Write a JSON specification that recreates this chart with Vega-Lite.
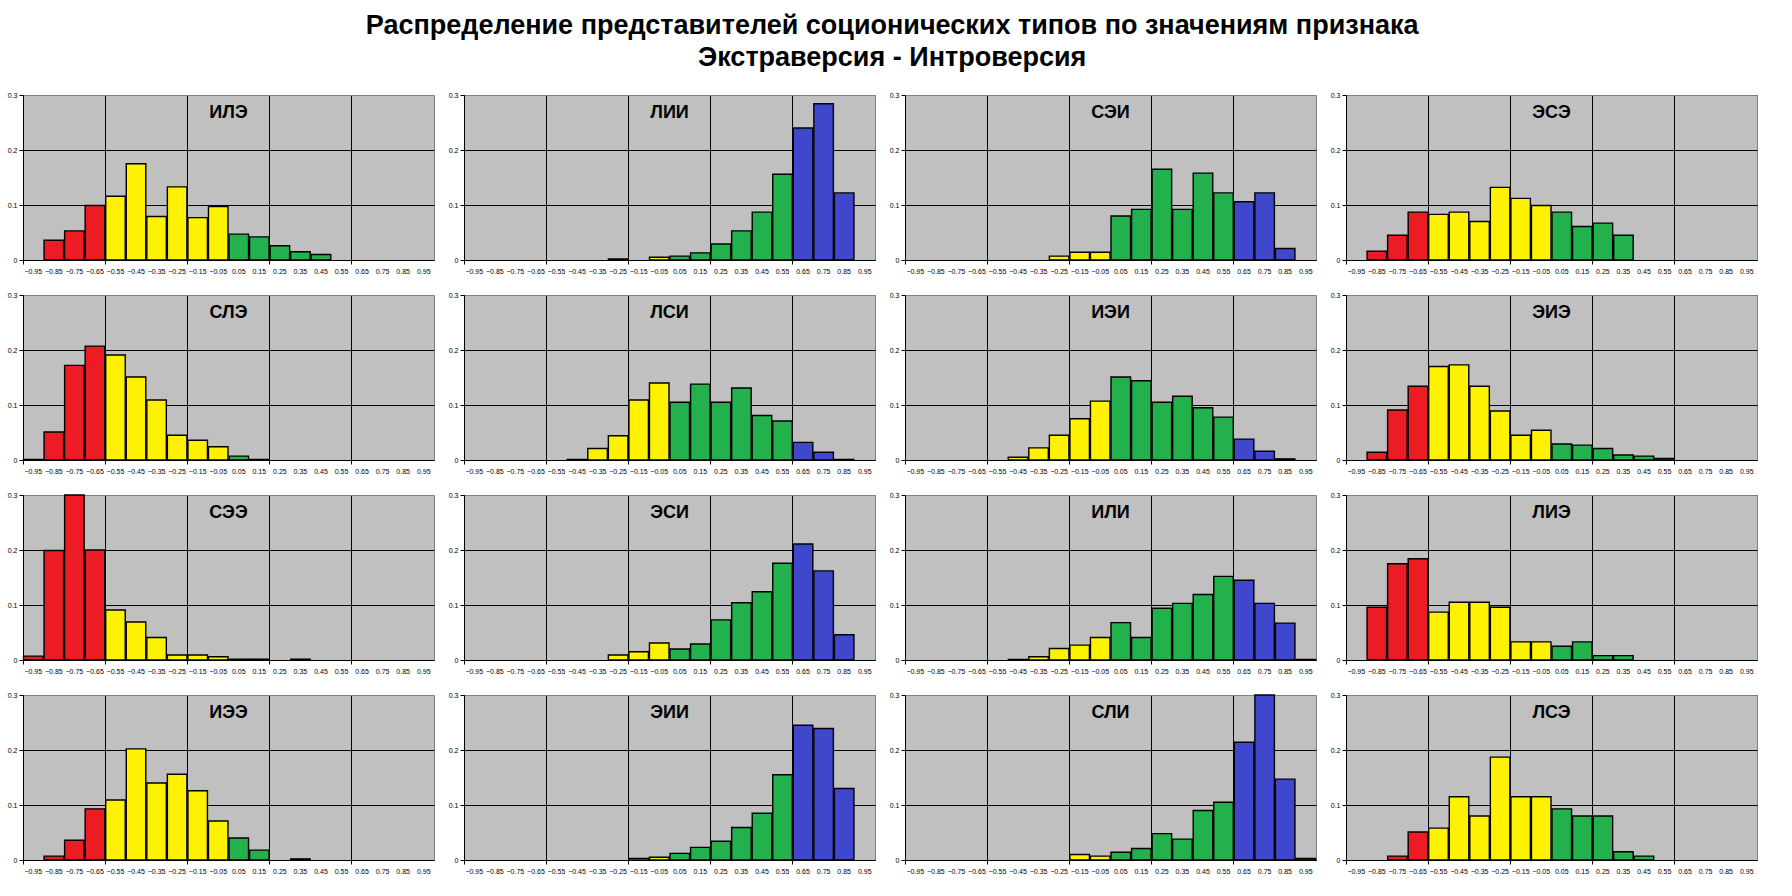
{
  "$schema": "https://vega.github.io/schema/vega-lite/v6.json",
  "description": "Распределение представителей соционических типов по значениям признака Экстраверсия - Интроверсия",
  "padding": {"left": 6, "top": 11, "right": 5, "bottom": 5},
  "background": "white",
  "locale": {"number": {"decimal": ",", "thousands": " ", "grouping": [3], "currency": ["", ""], "minus": "-"}},
  "title": {
    "text": ["Распределение представителей соционических типов по значениям признака", "Экстраверсия - Интроверсия"],
    "font": "Liberation Sans",
    "fontSize": 27,
    "fontWeight": "bold",
    "lineHeight": 32,
    "color": "black",
    "anchor": "middle",
    "dx": 10,
    "offset": 18
  },
  "config": {
    "font": "Liberation Sans",
    "view": {"fill": "#C0C0C0", "stroke": "#808080", "strokeWidth": 1},
    "header": {"labels": false, "title": null, "labelFontSize": 1, "labelPadding": 0, "labelColor": "transparent", "labelExpr": "''"},
    "headerFacet": {"labels": false, "title": null, "labelFontSize": 1, "labelPadding": 0, "labelColor": "transparent", "labelExpr": "''"}
  },
  "data": {
    "values": [
      {"t": "ИЛЭ", "b": -0.85, "v": 0.036}, {"t": "ИЛЭ", "b": -0.75, "v": 0.053}, {"t": "ИЛЭ", "b": -0.65, "v": 0.099},
      {"t": "ИЛЭ", "b": -0.55, "v": 0.116}, {"t": "ИЛЭ", "b": -0.45, "v": 0.175}, {"t": "ИЛЭ", "b": -0.35, "v": 0.079},
      {"t": "ИЛЭ", "b": -0.25, "v": 0.133}, {"t": "ИЛЭ", "b": -0.15, "v": 0.077}, {"t": "ИЛЭ", "b": -0.05, "v": 0.097},
      {"t": "ИЛЭ", "b": 0.05, "v": 0.047}, {"t": "ИЛЭ", "b": 0.15, "v": 0.042}, {"t": "ИЛЭ", "b": 0.25, "v": 0.026},
      {"t": "ИЛЭ", "b": 0.35, "v": 0.015}, {"t": "ИЛЭ", "b": 0.45, "v": 0.010},

      {"t": "ЛИИ", "b": -0.25, "v": 0.002}, {"t": "ЛИИ", "b": -0.05, "v": 0.005}, {"t": "ЛИИ", "b": 0.05, "v": 0.007},
      {"t": "ЛИИ", "b": 0.15, "v": 0.013}, {"t": "ЛИИ", "b": 0.25, "v": 0.029}, {"t": "ЛИИ", "b": 0.35, "v": 0.053},
      {"t": "ЛИИ", "b": 0.45, "v": 0.087}, {"t": "ЛИИ", "b": 0.55, "v": 0.156}, {"t": "ЛИИ", "b": 0.65, "v": 0.240},
      {"t": "ЛИИ", "b": 0.75, "v": 0.284}, {"t": "ЛИИ", "b": 0.85, "v": 0.122},

      {"t": "СЭИ", "b": -0.25, "v": 0.007}, {"t": "СЭИ", "b": -0.15, "v": 0.014}, {"t": "СЭИ", "b": -0.05, "v": 0.014},
      {"t": "СЭИ", "b": 0.05, "v": 0.080}, {"t": "СЭИ", "b": 0.15, "v": 0.092}, {"t": "СЭИ", "b": 0.25, "v": 0.165},
      {"t": "СЭИ", "b": 0.35, "v": 0.092}, {"t": "СЭИ", "b": 0.45, "v": 0.158}, {"t": "СЭИ", "b": 0.55, "v": 0.122},
      {"t": "СЭИ", "b": 0.65, "v": 0.106}, {"t": "СЭИ", "b": 0.75, "v": 0.122}, {"t": "СЭИ", "b": 0.85, "v": 0.021},

      {"t": "ЭСЭ", "b": -0.85, "v": 0.016}, {"t": "ЭСЭ", "b": -0.75, "v": 0.045}, {"t": "ЭСЭ", "b": -0.65, "v": 0.087},
      {"t": "ЭСЭ", "b": -0.55, "v": 0.083}, {"t": "ЭСЭ", "b": -0.45, "v": 0.087}, {"t": "ЭСЭ", "b": -0.35, "v": 0.070},
      {"t": "ЭСЭ", "b": -0.25, "v": 0.132}, {"t": "ЭСЭ", "b": -0.15, "v": 0.112}, {"t": "ЭСЭ", "b": -0.05, "v": 0.099},
      {"t": "ЭСЭ", "b": 0.05, "v": 0.087}, {"t": "ЭСЭ", "b": 0.15, "v": 0.061}, {"t": "ЭСЭ", "b": 0.25, "v": 0.067},
      {"t": "ЭСЭ", "b": 0.35, "v": 0.045},

      {"t": "СЛЭ", "b": -0.95, "v": 0.001}, {"t": "СЛЭ", "b": -0.85, "v": 0.051}, {"t": "СЛЭ", "b": -0.75, "v": 0.172},
      {"t": "СЛЭ", "b": -0.65, "v": 0.207}, {"t": "СЛЭ", "b": -0.55, "v": 0.191}, {"t": "СЛЭ", "b": -0.45, "v": 0.151},
      {"t": "СЛЭ", "b": -0.35, "v": 0.109}, {"t": "СЛЭ", "b": -0.25, "v": 0.045}, {"t": "СЛЭ", "b": -0.15, "v": 0.036},
      {"t": "СЛЭ", "b": -0.05, "v": 0.024}, {"t": "СЛЭ", "b": 0.05, "v": 0.007}, {"t": "СЛЭ", "b": 0.15, "v": 0.001},

      {"t": "ЛСИ", "b": -0.45, "v": 0.001}, {"t": "ЛСИ", "b": -0.35, "v": 0.021}, {"t": "ЛСИ", "b": -0.25, "v": 0.044},
      {"t": "ЛСИ", "b": -0.15, "v": 0.109}, {"t": "ЛСИ", "b": -0.05, "v": 0.140}, {"t": "ЛСИ", "b": 0.05, "v": 0.105},
      {"t": "ЛСИ", "b": 0.15, "v": 0.138}, {"t": "ЛСИ", "b": 0.25, "v": 0.105}, {"t": "ЛСИ", "b": 0.35, "v": 0.131},
      {"t": "ЛСИ", "b": 0.45, "v": 0.081}, {"t": "ЛСИ", "b": 0.55, "v": 0.071}, {"t": "ЛСИ", "b": 0.65, "v": 0.032},
      {"t": "ЛСИ", "b": 0.75, "v": 0.014}, {"t": "ЛСИ", "b": 0.85, "v": 0.001},

      {"t": "ИЭИ", "b": -0.45, "v": 0.005}, {"t": "ИЭИ", "b": -0.35, "v": 0.022}, {"t": "ИЭИ", "b": -0.25, "v": 0.045},
      {"t": "ИЭИ", "b": -0.15, "v": 0.075}, {"t": "ИЭИ", "b": -0.05, "v": 0.107}, {"t": "ИЭИ", "b": 0.05, "v": 0.151},
      {"t": "ИЭИ", "b": 0.15, "v": 0.144}, {"t": "ИЭИ", "b": 0.25, "v": 0.105}, {"t": "ИЭИ", "b": 0.35, "v": 0.116},
      {"t": "ИЭИ", "b": 0.45, "v": 0.095}, {"t": "ИЭИ", "b": 0.55, "v": 0.078}, {"t": "ИЭИ", "b": 0.65, "v": 0.038},
      {"t": "ИЭИ", "b": 0.75, "v": 0.016}, {"t": "ИЭИ", "b": 0.85, "v": 0.002},

      {"t": "ЭИЭ", "b": -0.85, "v": 0.014}, {"t": "ЭИЭ", "b": -0.75, "v": 0.091}, {"t": "ЭИЭ", "b": -0.65, "v": 0.134},
      {"t": "ЭИЭ", "b": -0.55, "v": 0.170}, {"t": "ЭИЭ", "b": -0.45, "v": 0.173}, {"t": "ЭИЭ", "b": -0.35, "v": 0.134},
      {"t": "ЭИЭ", "b": -0.25, "v": 0.089}, {"t": "ЭИЭ", "b": -0.15, "v": 0.045}, {"t": "ЭИЭ", "b": -0.05, "v": 0.054},
      {"t": "ЭИЭ", "b": 0.05, "v": 0.029}, {"t": "ЭИЭ", "b": 0.15, "v": 0.027}, {"t": "ЭИЭ", "b": 0.25, "v": 0.021},
      {"t": "ЭИЭ", "b": 0.35, "v": 0.009}, {"t": "ЭИЭ", "b": 0.45, "v": 0.007}, {"t": "ЭИЭ", "b": 0.55, "v": 0.003},

      {"t": "СЭЭ", "b": -0.95, "v": 0.007}, {"t": "СЭЭ", "b": -0.85, "v": 0.199}, {"t": "СЭЭ", "b": -0.75, "v": 0.300},
      {"t": "СЭЭ", "b": -0.65, "v": 0.200}, {"t": "СЭЭ", "b": -0.55, "v": 0.091}, {"t": "СЭЭ", "b": -0.45, "v": 0.069},
      {"t": "СЭЭ", "b": -0.35, "v": 0.041}, {"t": "СЭЭ", "b": -0.25, "v": 0.009}, {"t": "СЭЭ", "b": -0.15, "v": 0.009},
      {"t": "СЭЭ", "b": -0.05, "v": 0.006}, {"t": "СЭЭ", "b": 0.05, "v": 0.0015}, {"t": "СЭЭ", "b": 0.15, "v": 0.0015},
      {"t": "СЭЭ", "b": 0.35, "v": 0.0015},

      {"t": "ЭСИ", "b": -0.25, "v": 0.009}, {"t": "ЭСИ", "b": -0.15, "v": 0.015}, {"t": "ЭСИ", "b": -0.05, "v": 0.031},
      {"t": "ЭСИ", "b": 0.05, "v": 0.020}, {"t": "ЭСИ", "b": 0.15, "v": 0.029}, {"t": "ЭСИ", "b": 0.25, "v": 0.073},
      {"t": "ЭСИ", "b": 0.35, "v": 0.104}, {"t": "ЭСИ", "b": 0.45, "v": 0.124}, {"t": "ЭСИ", "b": 0.55, "v": 0.176},
      {"t": "ЭСИ", "b": 0.65, "v": 0.211}, {"t": "ЭСИ", "b": 0.75, "v": 0.162}, {"t": "ЭСИ", "b": 0.85, "v": 0.046},

      {"t": "ИЛИ", "b": -0.45, "v": 0.001}, {"t": "ИЛИ", "b": -0.35, "v": 0.006}, {"t": "ИЛИ", "b": -0.25, "v": 0.021},
      {"t": "ИЛИ", "b": -0.15, "v": 0.027}, {"t": "ИЛИ", "b": -0.05, "v": 0.041}, {"t": "ИЛИ", "b": 0.05, "v": 0.068},
      {"t": "ИЛИ", "b": 0.15, "v": 0.041}, {"t": "ИЛИ", "b": 0.25, "v": 0.094}, {"t": "ИЛИ", "b": 0.35, "v": 0.103},
      {"t": "ИЛИ", "b": 0.45, "v": 0.119}, {"t": "ИЛИ", "b": 0.55, "v": 0.152}, {"t": "ИЛИ", "b": 0.65, "v": 0.145},
      {"t": "ИЛИ", "b": 0.75, "v": 0.103}, {"t": "ИЛИ", "b": 0.85, "v": 0.067}, {"t": "ИЛИ", "b": 0.95, "v": 0.001},

      {"t": "ЛИЭ", "b": -0.85, "v": 0.096}, {"t": "ЛИЭ", "b": -0.75, "v": 0.175}, {"t": "ЛИЭ", "b": -0.65, "v": 0.184},
      {"t": "ЛИЭ", "b": -0.55, "v": 0.087}, {"t": "ЛИЭ", "b": -0.45, "v": 0.105}, {"t": "ЛИЭ", "b": -0.35, "v": 0.105},
      {"t": "ЛИЭ", "b": -0.25, "v": 0.096}, {"t": "ЛИЭ", "b": -0.15, "v": 0.033}, {"t": "ЛИЭ", "b": -0.05, "v": 0.033},
      {"t": "ЛИЭ", "b": 0.05, "v": 0.025}, {"t": "ЛИЭ", "b": 0.15, "v": 0.033}, {"t": "ЛИЭ", "b": 0.25, "v": 0.008},
      {"t": "ЛИЭ", "b": 0.35, "v": 0.008},

      {"t": "ИЭЭ", "b": -0.85, "v": 0.007}, {"t": "ИЭЭ", "b": -0.75, "v": 0.036}, {"t": "ИЭЭ", "b": -0.65, "v": 0.093},
      {"t": "ИЭЭ", "b": -0.55, "v": 0.109}, {"t": "ИЭЭ", "b": -0.45, "v": 0.202}, {"t": "ИЭЭ", "b": -0.35, "v": 0.140},
      {"t": "ИЭЭ", "b": -0.25, "v": 0.156}, {"t": "ИЭЭ", "b": -0.15, "v": 0.126}, {"t": "ИЭЭ", "b": -0.05, "v": 0.071},
      {"t": "ИЭЭ", "b": 0.05, "v": 0.040}, {"t": "ИЭЭ", "b": 0.15, "v": 0.018}, {"t": "ИЭЭ", "b": 0.35, "v": 0.002},

      {"t": "ЭИИ", "b": -0.15, "v": 0.003}, {"t": "ЭИИ", "b": -0.05, "v": 0.005}, {"t": "ЭИИ", "b": 0.05, "v": 0.012},
      {"t": "ЭИИ", "b": 0.15, "v": 0.023}, {"t": "ЭИИ", "b": 0.25, "v": 0.034}, {"t": "ЭИИ", "b": 0.35, "v": 0.059},
      {"t": "ЭИИ", "b": 0.45, "v": 0.085}, {"t": "ЭИИ", "b": 0.55, "v": 0.155}, {"t": "ЭИИ", "b": 0.65, "v": 0.245},
      {"t": "ЭИИ", "b": 0.75, "v": 0.239}, {"t": "ЭИИ", "b": 0.85, "v": 0.130},

      {"t": "СЛИ", "b": -0.15, "v": 0.010}, {"t": "СЛИ", "b": -0.05, "v": 0.007}, {"t": "СЛИ", "b": 0.05, "v": 0.014},
      {"t": "СЛИ", "b": 0.15, "v": 0.021}, {"t": "СЛИ", "b": 0.25, "v": 0.048}, {"t": "СЛИ", "b": 0.35, "v": 0.038},
      {"t": "СЛИ", "b": 0.45, "v": 0.090}, {"t": "СЛИ", "b": 0.55, "v": 0.105}, {"t": "СЛИ", "b": 0.65, "v": 0.214},
      {"t": "СЛИ", "b": 0.75, "v": 0.300}, {"t": "СЛИ", "b": 0.85, "v": 0.147}, {"t": "СЛИ", "b": 0.95, "v": 0.003},

      {"t": "ЛСЭ", "b": -0.75, "v": 0.007}, {"t": "ЛСЭ", "b": -0.65, "v": 0.051}, {"t": "ЛСЭ", "b": -0.55, "v": 0.058},
      {"t": "ЛСЭ", "b": -0.45, "v": 0.115}, {"t": "ЛСЭ", "b": -0.35, "v": 0.080}, {"t": "ЛСЭ", "b": -0.25, "v": 0.187},
      {"t": "ЛСЭ", "b": -0.15, "v": 0.115}, {"t": "ЛСЭ", "b": -0.05, "v": 0.115}, {"t": "ЛСЭ", "b": 0.05, "v": 0.093},
      {"t": "ЛСЭ", "b": 0.15, "v": 0.080}, {"t": "ЛСЭ", "b": 0.25, "v": 0.080}, {"t": "ЛСЭ", "b": 0.35, "v": 0.015},
      {"t": "ЛСЭ", "b": 0.45, "v": 0.007}
    ]
  },
  "facet": {
    "field": "t",
    "type": "nominal",
    "title": null,
    "header": {"labels": false, "title": null, "labelFontSize": 1, "labelPadding": 0, "labelColor": "transparent", "labelExpr": "''"},
    "sort": ["ИЛЭ", "ЛИИ", "СЭИ", "ЭСЭ", "СЛЭ", "ЛСИ", "ИЭИ", "ЭИЭ", "СЭЭ", "ЭСИ", "ИЛИ", "ЛИЭ", "ИЭЭ", "ЭИИ", "СЛИ", "ЛСЭ"]
  },
  "columns": 4,
  "spacing": {"row": 35, "column": 30},
  "bounds": "flush",
  "resolve": {"axis": {"x": "independent", "y": "independent"}},
  "spec": {
    "width": 411,
    "height": 165,
    "layer": [
      {
        "mark": {"type": "bar", "stroke": "black", "strokeWidth": 1.4, "width": {"band": 0.95}},
        "encoding": {
          "x": {
            "field": "b",
            "type": "ordinal",
            "scale": {
              "type": "band",
              "domain": [-0.95, -0.85, -0.75, -0.65, -0.55, -0.45, -0.35, -0.25, -0.15, -0.05, 0.05, 0.15, 0.25, 0.35, 0.45, 0.55, 0.65, 0.75, 0.85, 0.95],
              "paddingInner": 0,
              "paddingOuter": 0
            },
            "axis": {
              "title": null,
              "bandPosition": 0,
              "format": ".2f",
              "formatType": "number",
              "labelAngle": 0,
              "labelOverlap": false,
              "labelBound": false,
              "labelFontSize": 7,
              "labelColor": "black",
              "labelPadding": 3,
              "domainColor": "black",
              "domainWidth": 1,
              "tickSize": 4,
              "tickWidth": 1,
              "tickColor": {"condition": {"test": "indexof([-0.95, -0.55, -0.15, 0.25, 0.65], datum.value) >= 0", "value": "black"}, "value": "transparent"},
              "grid": true,
              "gridWidth": 1,
              "gridColor": {"condition": {"test": "indexof([-0.95, -0.55, -0.15, 0.25, 0.65], datum.value) >= 0", "value": "black"}, "value": "transparent"}
            }
          },
          "y": {
            "field": "v",
            "type": "quantitative",
            "scale": {"domain": [0, 0.3], "nice": false},
            "axis": {
              "title": null,
              "values": [0, 0.1, 0.2, 0.3],
              "format": ".1~f",
              "labelFontSize": 7,
              "labelColor": "black",
              "labelPadding": 2,
              "domainColor": "black",
              "tickColor": "black",
              "tickSize": 4,
              "grid": true,
              "gridWidth": 1,
              "gridColor": {"condition": {"test": "datum.value >= 0.3", "value": "#808080"}, "value": "black"}
            }
          },
          "color": {
            "field": "b",
            "type": "quantitative",
            "scale": {"type": "threshold", "domain": [-0.6, 0, 0.6], "range": ["#ED1C24", "#FFF200", "#22B14C", "#3F48CC"]},
            "legend": null
          }
        }
      },
      {
        "transform": [{"aggregate": [{"op": "count", "as": "n"}], "groupby": ["t"]}],
        "mark": {"type": "text", "fontSize": 18, "fontWeight": "bold", "align": "center", "baseline": "middle", "color": "black"},
        "encoding": {
          "x": {"datum": 0.05, "type": "ordinal", "bandPosition": 0},
          "y": {"datum": 0.268, "type": "quantitative"},
          "text": {"field": "t", "type": "nominal"}
        }
      }
    ]
  }
}
